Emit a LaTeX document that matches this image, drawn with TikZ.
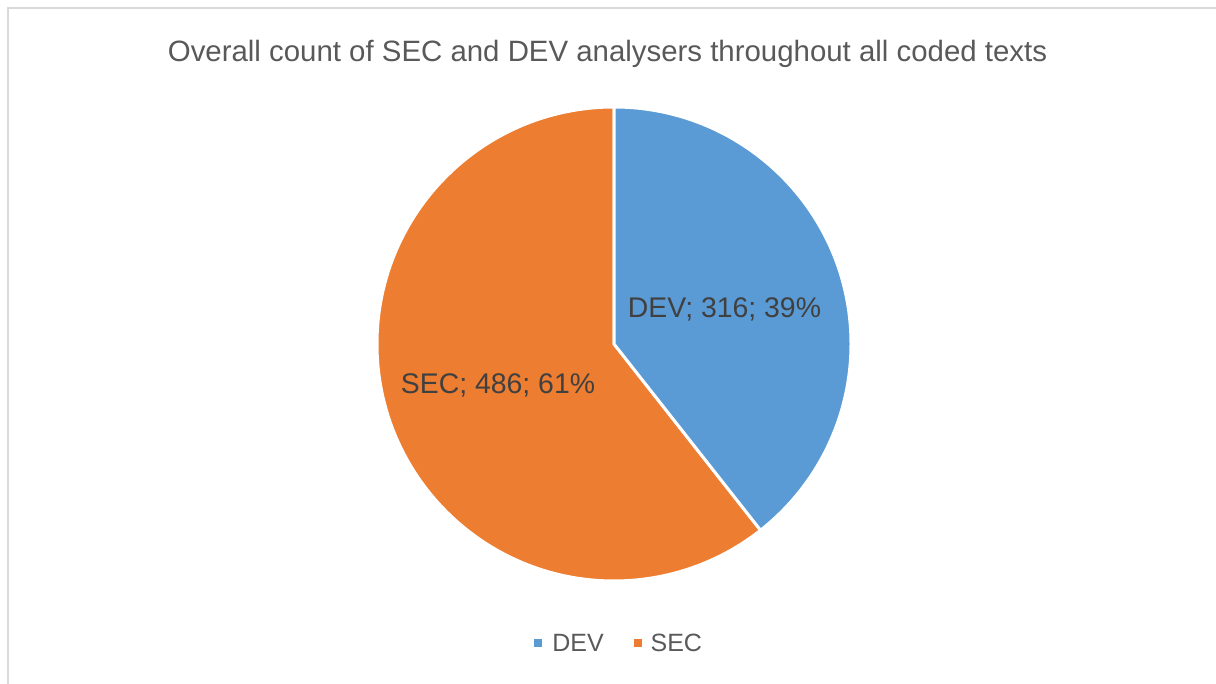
\documentclass[tikz,border=0pt]{standalone}
\usepackage{fontspec}
\setmainfont{Liberation Sans}
\usepackage{xcolor}
\usetikzlibrary{positioning}
\definecolor{devblue}{HTML}{5B9BD5}
\definecolor{secorange}{HTML}{ED7D31}
\definecolor{txtgray}{HTML}{595959}
\definecolor{lblgray}{HTML}{404040}
\definecolor{framegray}{HTML}{D9D9D9}

\begin{document}
\begin{tikzpicture}[
  x=1pt, y=1pt,
  slice/.style={draw=white, line width=3pt, line join=round},
  lbl/.style={font=\fontsize{28.4}{32}\selectfont, text=lblgray},
  leg/.style={font=\fontsize{25}{29}\selectfont, text=txtgray, inner sep=0pt},
  swatch/.style={minimum size=8pt, inner sep=0pt}
]
  \useasboundingbox (0,0) rectangle (1216,684);

  % chart frame (right and bottom edges run off the page)
  \draw[framegray, line width=2pt] (8,-10) -- (8,676) -- (1230,676);

  % title
  \node[font=\fontsize{29.4}{34}\selectfont, text=txtgray] (title) at (607.5,630)
    {Overall count of SEC and DEV analysers throughout all coded texts};

  % pie: DEV 316 (39%), SEC 486 (61%)
  \coordinate (ctr) at (614,340);
  \fill[secorange, slice] (ctr) -- ++(90:237) arc[start angle=90, end angle=308.2, radius=237] -- cycle;
  \fill[devblue, slice] (ctr) -- ++(90:237) arc[start angle=90, end angle=-51.8, radius=237] -- cycle;

  % data labels
  \node[lbl] (devlbl) at (724.5,375) {DEV; 316; 39\%};
  \node[lbl] (seclbl) at (498,299) {SEC; 486; 61\%};

  % legend
  \node[swatch, fill=devblue] (devkey) at (538,41) {};
  \node[leg, right=10pt of devkey] (devtxt) {DEV};
  \node[swatch, fill=secorange, right=30pt of devtxt] (seckey) {};
  \node[leg, right=8pt of seckey] (sectxt) {SEC};
\end{tikzpicture}
\end{document}
